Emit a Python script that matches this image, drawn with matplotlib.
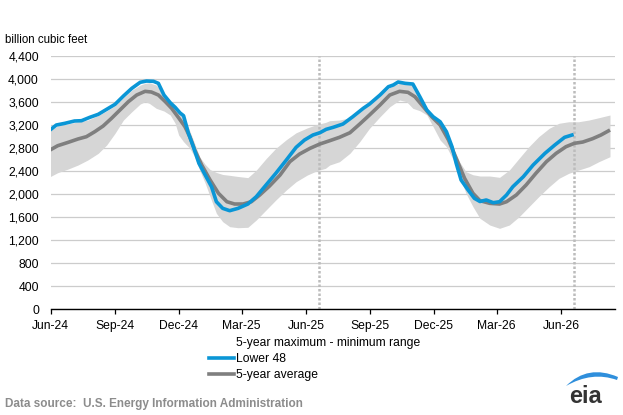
import numpy as np
import pandas as pd
import matplotlib
matplotlib.use("Agg")
import matplotlib.pyplot as plt
from matplotlib.lines import Line2D
from matplotlib.patches import Patch, PathPatch
from matplotlib.path import Path

plt.rcParams['font.family'] = ['Liberation Sans', 'DejaVu Sans']

# weekly working gas in storage, Lower 48
lower48_dates = ["2024-05-31", "2024-06-09", "2024-06-21", "2024-07-05", "2024-07-15",
                 "2024-07-27", "2024-08-08", "2024-08-20", "2024-09-01", "2024-09-13",
                 "2024-09-25", "2024-10-07", "2024-10-16", "2024-10-26", "2024-11-02",
                 "2024-11-10", "2024-11-19", "2024-11-26", "2024-12-03", "2024-12-08",
                 "2024-12-15", "2024-12-22", "2024-12-30", "2025-01-08", "2025-01-17",
                 "2025-01-24", "2025-02-02", "2025-02-12", "2025-02-24", "2025-03-10",
                 "2025-03-22", "2025-04-05", "2025-04-19", "2025-05-04", "2025-05-18",
                 "2025-05-30", "2025-06-11", "2025-06-21", "2025-06-30", "2025-07-10",
                 "2025-07-24", "2025-08-07", "2025-08-22", "2025-08-31", "2025-09-15",
                 "2025-09-27", "2025-10-04", "2025-10-11", "2025-10-21", "2025-11-01",
                 "2025-11-11", "2025-11-21", "2025-11-30", "2025-12-10", "2025-12-19",
                 "2025-12-27", "2026-01-02", "2026-01-09", "2026-01-19", "2026-01-28",
                 "2026-02-05", "2026-02-14", "2026-02-24", "2026-03-05", "2026-03-15",
                 "2026-03-24", "2026-04-08", "2026-04-22", "2026-05-09", "2026-05-23",
                 "2026-06-06", "2026-06-19"]
lower48 = [3118, 3205, 3234, 3275, 3280,
           3339, 3391, 3478, 3565, 3709,
           3843, 3948, 3970, 3965, 3930,
           3727, 3593, 3513, 3415, 3367,
           3061, 2828, 2539, 2335, 2132,
           1871, 1756, 1715, 1756, 1831,
           1958, 2162, 2365, 2596, 2817,
           2944, 3031, 3071, 3130, 3165,
           3222, 3349, 3495, 3570, 3727,
           3871, 3901, 3953, 3930, 3918,
           3697, 3466, 3349, 3262, 3089,
           2828, 2539, 2249, 2075, 1930,
           1875, 1901, 1854, 1871, 1988,
           2132, 2306, 2509, 2713, 2857,
           2991, 3040]

# 5-year average
avg_dates = ["2024-05-31", "2024-06-11", "2024-06-26", "2024-07-10", "2024-07-22",
             "2024-08-03", "2024-08-15", "2024-08-27", "2024-09-08", "2024-09-20",
             "2024-10-02", "2024-10-14", "2024-10-23", "2024-11-02", "2024-11-12",
             "2024-11-21", "2024-12-01", "2024-12-10", "2024-12-17", "2024-12-24",
             "2025-01-03", "2025-01-15", "2025-01-27", "2025-02-08", "2025-02-19",
             "2025-03-03", "2025-03-15", "2025-03-27", "2025-04-10", "2025-04-25",
             "2025-05-09", "2025-05-23", "2025-06-07", "2025-06-21", "2025-07-05",
             "2025-07-19", "2025-08-03", "2025-08-17", "2025-08-31", "2025-09-15",
             "2025-09-29", "2025-10-13", "2025-10-25", "2025-11-04", "2025-11-16",
             "2025-11-28", "2025-12-10", "2025-12-22", "2026-01-03", "2026-01-14",
             "2026-01-26", "2026-02-05", "2026-02-19", "2026-03-05", "2026-03-15",
             "2026-03-29", "2026-04-12", "2026-04-26", "2026-05-11", "2026-05-25",
             "2026-06-08", "2026-06-20", "2026-07-02", "2026-07-16", "2026-07-28",
             "2026-08-10"]
avg5 = [2770, 2845, 2904, 2962, 3002,
        3089, 3188, 3322, 3466, 3610,
        3727, 3791, 3779, 3727, 3610,
        3495, 3330, 3176, 3000, 2770,
        2509, 2249, 2017, 1871, 1831,
        1831, 1871, 1988, 2144, 2335,
        2567, 2701, 2800, 2875, 2932,
        2991, 3071, 3222, 3379, 3553,
        3727, 3791, 3774, 3697, 3523,
        3349, 3205, 2944, 2596, 2278,
        2017, 1889, 1843, 1831, 1871,
        1988, 2162, 2365, 2567, 2713,
        2828, 2887, 2909, 2967, 3031,
        3118]

# 5-year maximum - minimum range
range_dates = ["2024-05-31", "2024-06-11", "2024-06-26", "2024-07-10", "2024-07-24",
               "2024-08-08", "2024-08-20", "2024-09-01", "2024-09-13", "2024-09-25",
               "2024-10-07", "2024-10-14", "2024-10-20", "2024-10-30", "2024-11-10",
               "2024-11-19", "2024-11-26", "2024-12-01", "2024-12-08", "2024-12-17",
               "2024-12-24", "2024-12-31", "2025-01-08", "2025-01-15", "2025-01-24",
               "2025-02-02", "2025-02-12", "2025-02-24", "2025-03-10", "2025-03-22",
               "2025-04-05", "2025-04-19", "2025-05-04", "2025-05-18", "2025-06-03",
               "2025-06-17", "2025-06-29", "2025-07-05", "2025-07-19", "2025-08-03",
               "2025-08-17", "2025-08-31", "2025-09-15", "2025-09-29", "2025-10-13",
               "2025-10-23", "2025-11-01", "2025-11-11", "2025-11-21", "2025-11-30",
               "2025-12-10", "2025-12-19", "2025-12-29", "2026-01-07", "2026-01-16",
               "2026-01-26", "2026-02-05", "2026-02-19", "2026-03-05", "2026-03-19",
               "2026-04-02", "2026-04-16", "2026-04-30", "2026-05-15", "2026-05-29",
               "2026-06-12", "2026-06-26", "2026-07-11", "2026-07-25", "2026-08-10"]
range_min = [2306, 2376, 2440, 2509, 2596,
             2713, 2857, 3061, 3292, 3436,
             3570, 3610, 3582, 3495, 3448,
             3379, 3235, 3031, 2915, 2800,
             2650, 2422, 2191, 1958, 1669,
             1524, 1437, 1419, 1426, 1553,
             1727, 1901, 2075, 2219, 2335,
             2410, 2452, 2509, 2567, 2713,
             2915, 3148, 3349, 3523, 3640,
             3610, 3495, 3454, 3379, 3176,
             2944, 2828, 2596, 2306, 2017,
             1784, 1582, 1466, 1408, 1466,
             1610, 1784, 1958, 2132, 2278,
             2365, 2422, 2480, 2567, 2654]
range_max = [3110, 3190, 3225, 3260, 3290,
             3370, 3450, 3540, 3680, 3810,
             3900, 3930, 3940, 3900, 3740,
             3600, 3520, 3440, 3370, 3100,
             2880, 2650, 2520, 2430, 2380,
             2345, 2330, 2310, 2290, 2420,
             2620, 2800, 2950, 3070, 3155,
             3215, 3250, 3280, 3292, 3330,
             3440, 3560, 3710, 3860, 3930,
             3920, 3900, 3680, 3470, 3360,
             3270, 3100, 2800, 2560, 2393,
             2340, 2318, 2318, 2295, 2422,
             2626, 2828, 3002, 3148, 3235,
             3262, 3262, 3292, 3332, 3379]

# current-week markers (this year / last year)
marker_dates = ["2025-06-20", "2026-06-19"]

tick_dates = ["2024-06-01", "2024-09-01", "2024-12-01", "2025-03-01", "2025-06-01",
              "2025-09-01", "2025-12-01", "2026-03-01", "2026-06-01"]
tick_labels = ["Jun-24", "Sep-24", "Dec-24", "Mar-25", "Jun-25",
               "Sep-25", "Dec-25", "Mar-26", "Jun-26"]

blue = "#0a96d6"
gray = "#7f7f7f"
band = "#d6d6d6"

fig = plt.figure(figsize=(6.23, 4.15), dpi=100)
ax = fig.add_axes([0.0814, 0.2547, 0.9056, 0.6096])

ax.fill_between(pd.to_datetime(range_dates), range_min, range_max,
                color=band, linewidth=0, zorder=1)
ax.plot(pd.to_datetime(avg_dates), avg5, color=gray, lw=2.6, zorder=3,
        solid_capstyle='butt')
ax.plot(pd.to_datetime(lower48_dates), lower48, color=blue, lw=2.6, zorder=4,
        solid_capstyle='butt')
for d in marker_dates:
    ax.axvline(pd.Timestamp(d), color="#bcbcbc", lw=1.8, ls=(0, (1, 0.8)), zorder=2)

ax.set_ylim(0, 4400)
ax.set_yticks(np.arange(0, 4401, 400))
ax.set_yticklabels([f"{v:,}" for v in range(0, 4401, 400)])
ax.set_xlim(pd.Timestamp("2024-06-01"), pd.Timestamp("2026-08-17"))
ax.set_xticks(pd.to_datetime(tick_dates))
ax.set_xticklabels(tick_labels)

ax.grid(axis='y', color="#cccccc", lw=0.9, zorder=0)
ax.set_axisbelow(True)
for s in ['left', 'right', 'top']:
    ax.spines[s].set_visible(False)
ax.spines['bottom'].set_color('black')
ax.spines['bottom'].set_linewidth(1.0)
ax.tick_params(axis='y', length=0, pad=8.5, labelsize=8.7, labelcolor='black')
ax.tick_params(axis='x', direction='out', length=3.5, width=0.9, pad=4.5,
               labelsize=8.7, labelcolor='black')

fig.text(5 / 623, 1 - 40 / 415, "billion cubic feet", fontsize=8.3, va='center', ha='left')

handles = [Patch(facecolor='none', edgecolor='none'),
           Line2D([], [], color=blue, lw=2.6),
           Line2D([], [], color=gray, lw=2.6)]
labels = ["5-year maximum - minimum range", "Lower 48", "5-year average"]
fig.legend(handles, labels, loc='upper left', bbox_to_anchor=(209 / 623, 1 - 337 / 415),
           frameon=False, fontsize=8.7, handlelength=2.1, handletextpad=0.15,
           labelspacing=0.35, borderaxespad=0, borderpad=0)

fig.text(5 / 623, 1 - 404 / 415, "Data source:  U.S. Energy Information Administration",
         fontsize=8.5, fontweight='bold', color="#8c8c8c", va='center', ha='left')

# eia logo
fig.text(585 / 623, 1 - 396 / 415, "eia", fontsize=17, fontweight='bold',
         color="#333333", ha='center', va='center')
W, H = 623.0, 415.0
p0 = (566 / W, 1 - 386 / H)
swoosh = Path([p0, (588 / W, 1 - 364 / H), (618 / W, 1 - 377 / H),
               (617 / W, 1 - 380 / H), (592 / W, 1 - 371 / H), p0, p0],
              [Path.MOVETO, Path.CURVE3, Path.CURVE3,
               Path.LINETO, Path.CURVE3, Path.CURVE3, Path.CLOSEPOLY])
fig.patches.append(PathPatch(swoosh, facecolor="#2f8fdc", edgecolor='none',
                             transform=fig.transFigure))

fig.savefig("out.png", dpi=100)
